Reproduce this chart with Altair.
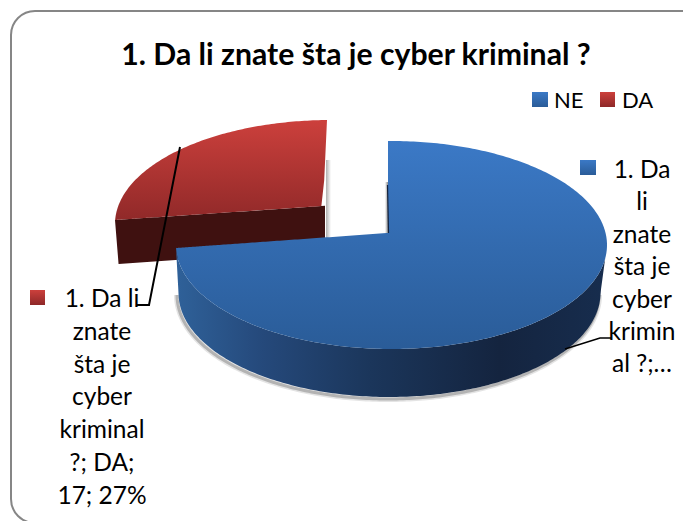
import numpy as np
import pandas as pd
import altair as alt

TITLE = "1. Da li znate šta je cyber kriminal ?"
CATEGORIES = ["NE", "DA"]
VALUES = [46, 17]
RIGHT_LABEL = ["1. Da", "li", "znate", "šta je", "cyber", "krimin", "al ?;…"]
LEFT_LABEL = ["1. Da li", "znate", "šta je", "cyber", "kriminal", "?; DA;", "17; 27%"]

FONT = "Lato"
W, H = 683, 521
SX = alt.Scale(domain=[8, W], nice=False, zero=False)
SY = alt.Scale(domain=[H, 8], nice=False, zero=False)
X = alt.X("x:Q", scale=SX, axis=None)
Y = alt.Y("y:Q", scale=SY, axis=None)
Y2 = alt.Y2("y2:Q")
X2 = alt.X2("x2:Q")


def grad(stops, horizontal=False):
    return alt.Gradient(
        gradient="linear",
        stops=[alt.GradientStop(offset=o, color=c) for o, c in stops],
        x1=0, y1=0, x2=1 if horizontal else 0, y2=0 if horizontal else 1,
    )


BLUE_TOP = grad([(0, "#3B79C6"), (1, "#2A5C98")])
RED_TOP = grad([(0, "#CC403C"), (1, "#8E2828")])
BLUE_SIDE = grad([(0, "#2F6199"), (0.2, "#25497B"), (0.45, "#1B365B"),
                  (0.75, "#14243F"), (1, "#172D4E")], horizontal=True)
RED_SIDE = "#3F1110"
SWATCH_BLUE = grad([(0, "#3B79C6"), (1, "#2A5C98")])
SWATCH_RED = grad([(0, "#CC403C"), (1, "#8E2828")])

# pie geometry
cx, cy, rx, ry = 391.5, 245.0, 215.5, 104.0
apex_x, apex_y = 388.0, 233.0
corner_y = 248.0


def ell_up(x, cx_, cy_, rx_, ry_):
    return cy_ - ry_ * np.sqrt(np.clip(1 - ((x - cx_) / rx_) ** 2, 0, 1))


def ell_lo(x, cx_, cy_, rx_, ry_):
    return cy_ + ry_ * np.sqrt(np.clip(1 - ((x - cx_) / rx_) ** 2, 0, 1))


def cos_grid(cx_, rx_, n=200):
    return cx_ - rx_ * np.cos(np.linspace(0, np.pi, n))


# blue top surface
gx = cos_grid(cx, rx)
left = gx[gx < apex_x]
right = gx[gx > apex_x + 0.02]
rows = []
for x in left:
    lo = ell_lo(x, cx, cy, rx, ry)
    up = corner_y + (apex_y - corner_y) * (x - (cx - rx)) / (apex_x - (cx - rx))
    rows.append((x, min(up, lo), lo))
lo = ell_lo(apex_x, cx, cy, rx, ry)
rows.append((apex_x, apex_y, lo))
rows.append((apex_x + 0.01, ell_up(apex_x, cx, cy, rx, ry), lo))
for x in right:
    rows.append((x, ell_up(x, cx, cy, rx, ry), ell_lo(x, cx, cy, rx, ry)))
blue_top = pd.DataFrame(rows, columns=["x", "y", "y2"])

# blue side wall
bcx, bcy, brx, bry = 389.5, 293.0, 211.0, 104.0
rows = []
for x in gx:
    up = ell_lo(x, cx, cy, rx, ry)
    if x < bcx - brx:
        down = corner_y + (bcy - corner_y) * (x - (cx - rx)) / (bcx - brx - (cx - rx))
    elif x > bcx + brx:
        down = bcy + (cy - bcy) * (x - (bcx + brx)) / (cx + rx - (bcx + brx))
    else:
        down = ell_lo(x, bcx, bcy, brx, bry)
    rows.append((x, up, max(up, down)))
blue_side = pd.DataFrame(rows, columns=["x", "y", "y2"])

# blue shadow line
sx = cos_grid(bcx, brx)
shadow = pd.DataFrame({"x": sx - 1.5, "y": ell_lo(sx, bcx, bcy, brx, bry) + 2.0})
shadow["k"] = range(len(shadow))

# red top surface
rcx, rcy, rrx, rry = 331.0, 224.0, 216.0, 104.0
rl, rr = rcx - rrx, 327.0
xs = rcx - rrx * np.cos(np.linspace(0, np.arccos((rcx - rr) / rrx), 120))
rows = []
for x in xs:
    up = ell_up(x, rcx, rcy, rrx, rry)
    low = 220.0 + (206.0 - 220.0) * (x - rl) / (323.0 - rl) if x <= 323 else 206.0 - (x - 323.0) / 4 * 86
    rows.append((x, up, max(up, low)))
red_top = pd.DataFrame(rows, columns=["x", "y", "y2"])

# red side wall
rows = []
for x in np.linspace(115, 325, 60):
    up = 220.0 + (206.0 - 220.0) * (x - 115) / (323.0 - 115)
    if x < 118:
        down = 220.0 + 44.0 * (x - 115) / 3
    else:
        down = 264.0 + (250.0 - 264.0) * (x - 118) / (325.0 - 118)
    rows.append((x, up, down))
red_side = pd.DataFrame(rows, columns=["x", "y", "y2"])

frame = pd.DataFrame([{"x": 11, "x2": 705, "y": 11, "y2": 523}])
layers = []
layers.append(alt.Chart(frame).mark_rect(fill="white", stroke="#868686", strokeWidth=2, cornerRadius=24, clip=True)
              .encode(x=X, x2=X2, y=Y, y2=Y2))


def area(df, fill, **kw):
    return alt.Chart(df).mark_area(color=fill, interpolate="linear", **kw).encode(
        x=alt.X("x:Q", scale=SX, axis=None, stack=None),
        y=alt.Y("y:Q", scale=SY, axis=None, stack=None), y2=Y2)


def line(df, color, width, **kw):
    return alt.Chart(df).mark_line(color=color, strokeWidth=width, **kw).encode(
        x=X, y=Y, order=alt.Order("k:Q"))


# red shadow + side + top
layers.append(alt.Chart(pd.DataFrame([{"x": 326, "x2": 331, "y": 160, "y2": 238}])).mark_rect(
    color=grad([(0, "#B0B0B0"), (1, "#FFFFFF")], horizontal=True)).encode(x=X, x2=X2, y=Y, y2=Y2))
layers.append(area(red_side, RED_SIDE))
layers.append(area(red_top, RED_TOP))

# blue shadow, inner wall, side, top
layers.append(line(shadow, "#777777", 6, opacity=0.2))
layers.append(line(shadow, "#777777", 3, opacity=0.45))
layers.append(alt.Chart(pd.DataFrame([{"x": 385, "x2": 388, "y": 182, "y2": 233}])).mark_rect(
    color=grad([(0, "#FFFFFF"), (1, "#8A8A8A")], horizontal=True)).encode(x=X, x2=X2, y=Y, y2=Y2))
layers.append(area(blue_side, BLUE_SIDE))
layers.append(area(blue_top, BLUE_TOP))
layers.append(line(pd.DataFrame({"x": [387.5, 388.5], "y": [185, 233], "k": [0, 1]}), "#14233E", 1.2))

# leader lines
layers.append(line(pd.DataFrame({"x": [180, 149, 137], "y": [147, 305, 305], "k": [0, 1, 2]}), "#000000", 2))
layers.append(line(pd.DataFrame({"x": [565, 600, 612], "y": [349, 338, 338], "k": [0, 1, 2]}), "#000000", 1.5))

# legend and data label swatches
for x0, x1, y0, y1, fill in [
    (532, 548, 92, 107, SWATCH_BLUE),
    (600, 615, 92, 107, SWATCH_RED),
    (580, 596, 160, 175, SWATCH_BLUE),
    (30, 45, 290, 305, SWATCH_RED),
]:
    layers.append(alt.Chart(pd.DataFrame([{"x": x0, "x2": x1, "y": y0, "y2": y1}])).mark_rect(color=fill)
                  .encode(x=X, x2=X2, y=Y, y2=Y2))


def text(df, size=24.5, weight="normal", align="center"):
    return alt.Chart(df).mark_text(font=FONT, fontSize=size, fontWeight=weight, align=align,
                                   baseline="middle", color="#000000").encode(x=X, y=Y, text="t:N")


layers.append(text(pd.DataFrame([{"x": 356, "y": 55.5, "t": TITLE}]), size=30.2, weight="bold"))
layers.append(text(pd.DataFrame({"x": [554, 622], "y": [100.5, 100.5], "t": CATEGORIES}), size=22, align="left"))
layers.append(text(pd.DataFrame({"x": 642, "y": [171 + 32.4 * i for i in range(7)], "t": RIGHT_LABEL})))
layers.append(text(pd.DataFrame({"x": 102, "y": [300 + 32.8 * i for i in range(7)], "t": LEFT_LABEL})))

chart = alt.layer(*layers).properties(
    width=W - 8, height=H - 8, padding=0, autosize=alt.AutoSizeParams(type="none"), background="white"
).configure_view(stroke=None)

chart.save("out.html", embed_options={"renderer": "svg", "actions": False})
